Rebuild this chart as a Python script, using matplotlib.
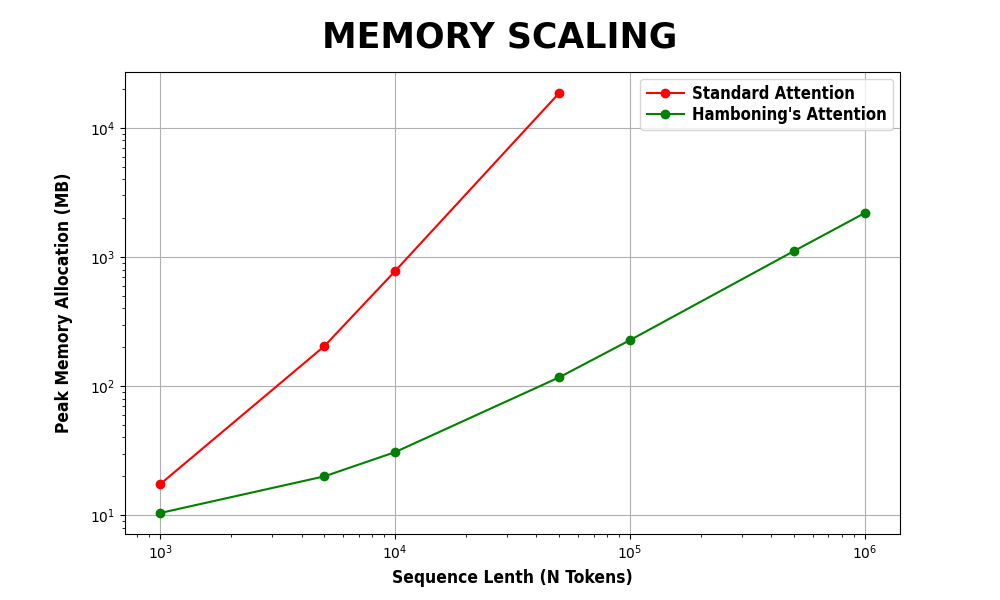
import matplotlib
matplotlib.use("Agg")
import matplotlib.pyplot as plt

# Sequence lengths (tokens) and peak memory (MB)
std_tokens = [1000, 5000, 10000, 50000]
std_memory = [17.4, 204, 778, 18660]

ham_tokens = [1000, 5000, 10000, 50000, 100000, 500000, 1000000]
ham_memory = [10.4, 20.0, 30.8, 117, 227, 1114, 2193]

LABEL_FONT = dict(family="DejaVu Sans", stretch="condensed", weight="bold")

fig, ax = plt.subplots(figsize=(10, 6), dpi=100)

ax.plot(std_tokens, std_memory, "o-", color="red", label="Standard Attention")
ax.plot(ham_tokens, ham_memory, "o-", color="green", label="Hamboning's Attention")

ax.set_xscale("log")
ax.set_yscale("log")
ax.grid(True)

fig.suptitle("MEMORY SCALING", fontsize=25, fontweight="heavy",
             family="DejaVu Sans", y=0.965)
ax.set_xlabel("Sequence Lenth (N Tokens)", fontsize=12.5, labelpad=5, **LABEL_FONT)
ax.set_ylabel("Peak Memory Allocation (MB)", fontsize=12.5, labelpad=12, **LABEL_FONT)

ax.legend(loc="upper right", labelspacing=0.15, borderaxespad=0.4,
          handletextpad=0.5, handlelength=2.2,
          prop=dict(size=12, **LABEL_FONT))

fig.savefig("out.png", dpi=100)
plt.close(fig)
